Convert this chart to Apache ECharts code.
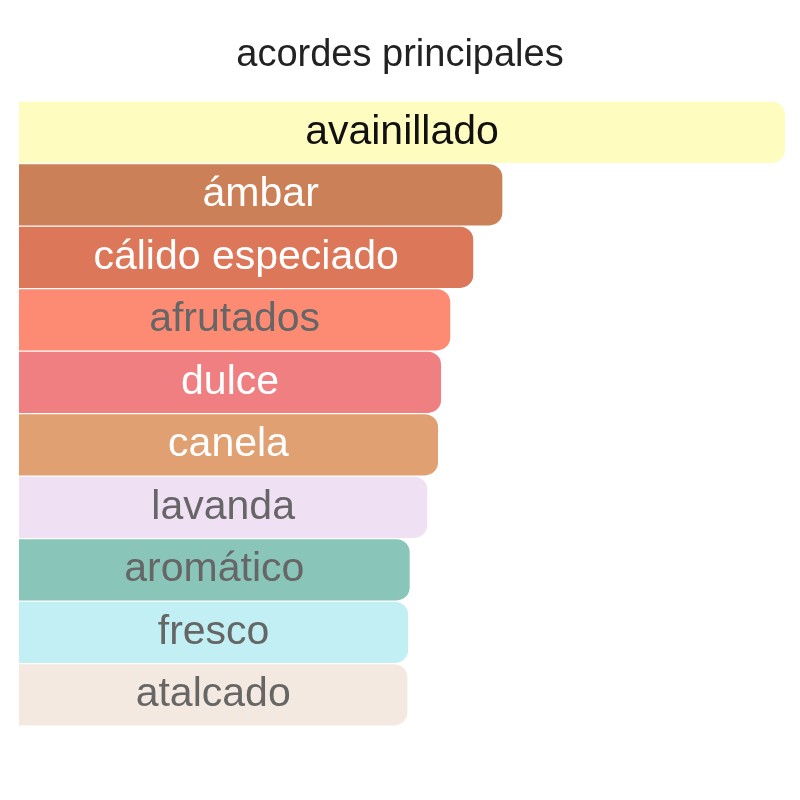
<!DOCTYPE html>
<html>
<head>
<meta charset="utf-8">
<script src="https://cdn.jsdelivr.net/npm/echarts@6/dist/echarts.min.js"></script>
<style>
  html, body { margin: 0; padding: 0; background: #fff; }
  #chart { width: 800px; height: 800px; }
</style>
</head>
<body>
<div id="chart"></div>
<script>
var accords = ["avainillado", "ámbar", "cálido especiado", "afrutados", "dulce",
  "canela", "lavanda", "aromático", "fresco", "atalcado"];
var strength = [100, 63.1, 59.3, 56.3, 55.1, 54.7, 53.3, 51.0, 50.8, 50.7];
var barColors = ["#fffcc0", "#cc8058", "#dc775a", "#fd8b73", "#f07f81",
  "#e1a071", "#efe0f3", "#89c6b9", "#c1eff3", "#f4e9e0"];
var textColors = ["#111", "#fff", "#fff", "#666", "#fff",
  "#fff", "#666", "#666", "#666", "#666"];

var myChart = echarts.init(document.getElementById("chart"));

var data = [];
for (var i = 0; i < accords.length; i++) {
  data.push({
    value: strength[i],
    itemStyle: { color: barColors[i] },
    label: { color: textColors[i] }
  });
}

var option = {
  animation: false,
  title: {
    text: "acordes principales",
    left: "center",
    top: 32,
    textStyle: {
      fontFamily: "Liberation Sans",
      fontSize: 38,
      fontWeight: "normal",
      color: "#222"
    }
  },
  grid: { left: 19, right: 15, top: 101, bottom: 74 },
  xAxis: { type: "value", min: 0, max: 100, show: false },
  yAxis: {
    type: "category",
    data: accords,
    inverse: true,
    show: false
  },
  series: [{
    type: "bar",
    data: data,
    barCategoryGap: "2%",
    itemStyle: { borderRadius: [0, 13, 13, 0] },
    label: {
      show: true,
      position: "inside",
      formatter: function (p) { return p.name; },
      fontFamily: "Liberation Sans",
      fontSize: 41
    }
  }]
};

myChart.setOption(option);
</script>
</body>
</html>
